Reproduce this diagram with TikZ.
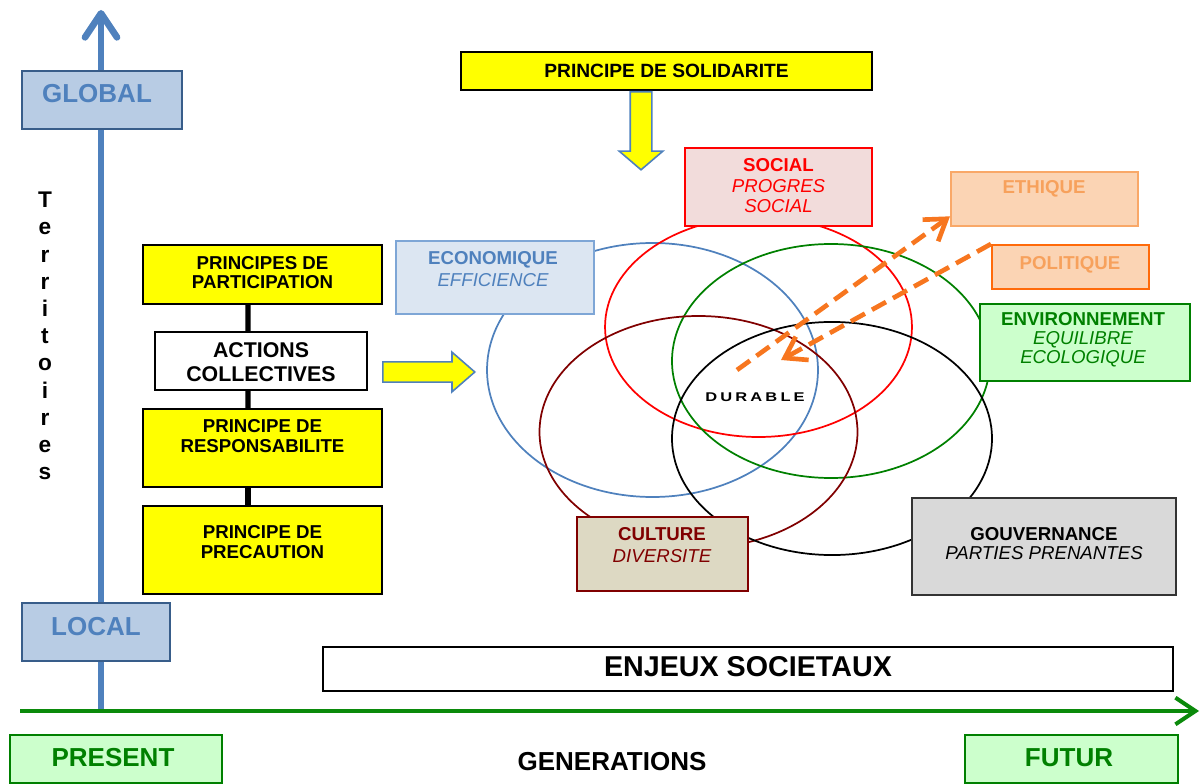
\documentclass[tikz,border=0pt]{standalone}
\usepackage{fontspec}
\setmainfont{Liberation Sans}
\newfontfamily\durfont[LetterSpace=25,FakeStretch=1.3]{Liberation Sans}
\usetikzlibrary{positioning,shapes.arrows,arrows.meta}

\definecolor{axeblue}{HTML}{4F81BD}
\definecolor{globfill}{HTML}{B8CCE4}
\definecolor{globline}{HTML}{385D8A}
\definecolor{gen}{HTML}{0B8A0B}
\definecolor{genfill}{HTML}{CCFFCC}
\definecolor{envgreen}{HTML}{008000}
\definecolor{yel}{HTML}{FFFF00}
\definecolor{socfill}{HTML}{F2DCDB}
\definecolor{ecofill}{HTML}{DCE6F2}
\definecolor{ecoline}{HTML}{7EA6D6}
\definecolor{ethfill}{HTML}{FBD4B4}
\definecolor{ethline}{HTML}{F9A868}
\definecolor{ethtext}{HTML}{F7A15C}
\definecolor{polline}{HTML}{FF6A0A}
\definecolor{cultred}{HTML}{800000}
\definecolor{cultfill}{HTML}{DDD9C3}
\definecolor{gouvfill}{HTML}{D9D9D9}
\definecolor{flecheor}{HTML}{F7761F}

\newcommand{\taille}[2]{\fontsize{#1}{#2}\selectfont}

\begin{document}
\begin{tikzpicture}[x=0.75pt, y=-0.75pt,
  boite/.style={draw, line width=1.5pt, inner sep=0pt},
  jaune/.style={boite, fill=yel},
  bloc/.style={single arrow, fill=yel, draw=axeblue, line width=1.2pt,
    inner xsep=0pt, text height=0pt, text depth=0pt},
  fleche/.style={draw=flecheor, line width=3.5pt, dash pattern=on 12pt off 6pt,
    -{Straight Barb[length=15pt,width=20pt]}},
  cercle/.style={line width=1.3pt},
  txt/.style={align=center, font=\bfseries\taille{14}{15}}]
\useasboundingbox (0,0) rectangle (1200,784);

% axes
\coordinate (O) at (101,711);
\coordinate (haut) at (101,10);
\coordinate (gauche) at (20,711);
\coordinate (droite) at (1199,711);
\draw[axeblue, line width=5pt, -{Straight Barb[length=18pt,width=24pt,round]}] (O) -- (haut);
\draw[gen, line width=3pt, -{Straight Barb[length=15pt,width=20pt]}] (gauche) -- (droite);

% territoires
\node[boite, draw=globline, fill=globfill, minimum width=120pt, minimum height=43.5pt] (global) at (102,100) {};
\node[font=\bfseries\taille{19.5}{22}, text=axeblue] (global-t) at (97,94) {GLOBAL};
\node[boite, draw=globline, fill=globfill, minimum width=111pt, minimum height=43.5pt] (local) at (96,632) {};
\node[font=\bfseries\taille{19.5}{22}, text=axeblue] (local-t) at (96,627) {LOCAL};
\node[align=center, font=\bfseries\taille{17}{20.4}] (terr) at (45,336) {T\\e\\r\\r\\i\\t\\o\\i\\r\\e\\s};

% generations
\node[boite, draw=envgreen, fill=genfill, minimum width=159pt, minimum height=36pt] (present) at (116,759) {};
\node[font=\bfseries\taille{19.5}{22}, text=envgreen] (present-t) at (113,758) {PRESENT};
\node[boite, draw=envgreen, fill=genfill, minimum width=159.75pt, minimum height=36pt] (futur) at (1071.5,759) {};
\node[font=\bfseries\taille{19.5}{22}, text=envgreen] (futur-t) at (1069,758) {FUTUR};
\node[font=\bfseries\taille{19.5}{22}] (gens) at (612,762) {GENERATIONS};

% ellipses
\draw[cercle, axeblue] (652.5,370) ellipse [x radius=124.1pt, y radius=95.25pt];
\draw[cercle, red] (758.5,327) ellipse [x radius=115.1pt, y radius=82.5pt];
\draw[cercle, envgreen] (831,361) ellipse [x radius=119.25pt, y radius=87.75pt];
\draw[cercle, cultred] (698.5,432) ellipse [x radius=119.25pt, y radius=87pt];
\draw[cercle, black] (832,438.5) ellipse [x radius=120pt, y radius=87.4pt];
\node[font=\durfont\bfseries\taille{9.5}{11}] (durable) at (755,397) {DURABLE};

% principes
\node[jaune, minimum width=179.25pt, minimum height=44.25pt] (part) at (262.5,274.5) {};
\node[txt, font=\bfseries\taille{14}{14.25}] (part-t) at (262.5,272.5) {PRINCIPES DE\\PARTICIPATION};
\node[boite, fill=white, minimum width=159pt, minimum height=43.5pt] (actions) at (261,361) {};
\node[txt, font=\bfseries\taille{16}{18}] (actions-t) at (261,362) {ACTIONS\\COLLECTIVES};
\node[jaune, minimum width=179.25pt, minimum height=58.5pt] (resp) at (262.5,448) {};
\node[txt] (resp-t) at (262.5,436) {PRINCIPE DE\\RESPONSABILITE};
\node[jaune, minimum width=179.25pt, minimum height=66pt] (prec) at (262.5,550) {};
\node[txt] (prec-t) at (262.5,542) {PRINCIPE DE\\PRECAUTION};
\draw[line width=4pt] ([xshift=-10.9pt]part.south) -- ([xshift=-9.75pt]actions.north);
\draw[line width=4pt] ([xshift=-9.75pt]actions.south) -- ([xshift=-10.9pt]resp.north);
\draw[line width=4pt] ([xshift=-10.9pt]resp.south) -- ([xshift=-10.9pt]prec.north);

\node[jaune, minimum width=308.25pt, minimum height=28.5pt] (solid) at (666.5,71) {};
\node[txt, font=\bfseries\taille{14.4}{15}] (solid-t) at (666.5,71) {PRINCIPE DE SOLIDARITE};

% fleches jaunes
\node[bloc, anchor=tail, inner ysep=6.95pt, minimum height=69pt, single arrow head extend=7.3pt,
  single arrow tip angle=82] (flechedroite) at ([xshift=10.5pt,yshift=-8.25pt]actions.east) {};
\node[bloc, anchor=tail, rotate=-90, inner ysep=7.5pt, minimum height=58.5pt, single arrow head extend=8.25pt,
  single arrow tip angle=99] (flechebas) at ([xshift=-19.1pt]solid.south) {};

% dimensions
\node[boite, draw=red, fill=socfill, minimum width=140.25pt, minimum height=58.5pt] (social) at (778.5,187) {};
\node[txt, text=red, font=\taille{14}{15.4}] (social-t) at (778.5,186) {\bfseries SOCIAL\\\itshape PROGRES\\\itshape SOCIAL};
\node[boite, draw=ecoline, fill=ecofill, minimum width=148.5pt, minimum height=54.75pt] (eco) at (495,277.5) {};
\node[txt, text=axeblue, font=\taille{14}{16.5}] (eco-t) at (493,269) {\bfseries ECONOMIQUE\\\itshape EFFICIENCE};
\node[boite, draw=ethline, fill=ethfill, minimum width=140.25pt, minimum height=40.5pt] (ethique) at (1044.5,199) {};
\node[txt, text=ethtext] (ethique-t) at (1044,189) {ETHIQUE};
\node[boite, draw=polline, fill=ethfill, minimum width=117.75pt, minimum height=33pt] (politique) at (1070.5,267) {};
\node[txt, text=ethtext] (politique-t) at (1070,265) {POLITIQUE};
\node[boite, draw=envgreen, fill=genfill, minimum width=157.5pt, minimum height=57.75pt] (env) at (1085,342.5) {};
\node[txt, text=envgreen, font=\taille{14}{14.25}] (env-t) at (1083,340) {\bfseries ENVIRONNEMENT\\\itshape EQUILIBRE\\\itshape ECOLOGIQUE};
\node[boite, draw=cultred, fill=cultfill, minimum width=128.25pt, minimum height=55.5pt] (culture) at (662.5,554) {};
\node[txt, text=cultred, font=\taille{14}{16.5}] (culture-t) at (662,545) {\bfseries CULTURE\\\itshape DIVERSITE};
\node[boite, draw=black!80, fill=gouvfill, minimum width=198pt, minimum height=72.75pt] (gouv) at (1044,546.5) {};
\node[txt, font=\taille{14}{14.25}] (gouv-t) at (1044,543.5) {\bfseries GOUVERNANCE\\\itshape PARTIES PRENANTES};

\node[boite, fill=white, minimum width=637.5pt, minimum height=33pt] (enjeux) at (748,669) {};
\node[font=\bfseries\taille{21.5}{24}] (enjeux-t) at (748,667) {ENJEUX SOCIETAUX};

% fleches orange
\coordinate (dur1) at (737,370);
\coordinate (dur2) at (781,360);
\draw[fleche] (dur1) -- ([yshift=8pt]ethique.south west);
\draw[fleche] (politique.north west) -- (dur2);
\end{tikzpicture}
\end{document}
